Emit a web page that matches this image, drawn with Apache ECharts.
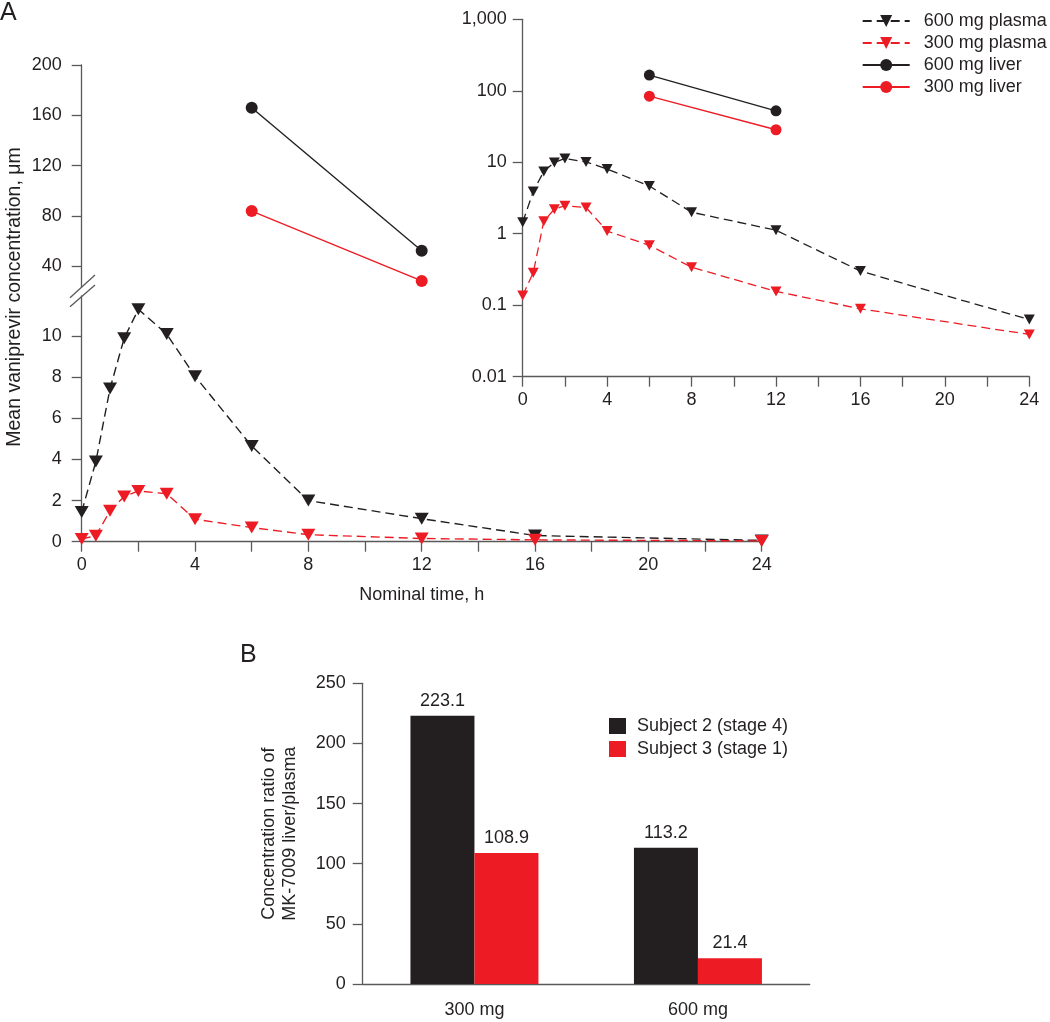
<!DOCTYPE html>
<html>
<head>
<meta charset="utf-8">
<title>Vaniprevir concentration</title>
<script src="https://cdn.jsdelivr.net/npm/echarts@6/dist/echarts.min.js"></script>
<style>
  html, body { margin: 0; padding: 0; background: #fff; }
  #main { width: 1050px; height: 1022px; }
</style>
</head>
<body>
<div id="main"></div>
<script>
// panel A data (hours, µM)
var times = [0, 0.5, 1, 1.5, 2, 3, 4, 6, 8, 12, 16, 24];
var plasma600 = [1.45, 3.9, 7.45, 9.9, 11.3, 10.1, 8.05, 4.65, 2.0, 1.12, 0.3, 0.063];
var plasma300 = [0.137, 0.285, 1.5, 2.2, 2.47, 2.33, 1.09, 0.69, 0.34, 0.156, 0.089, 0.039];
var liverTimes = [6, 12];
var liver600 = [166, 52.5];
var liver300 = [84, 28.5];
var upperTicks = [40, 80, 120, 160, 200];
var lowerTicks = [0, 2, 4, 6, 8, 10];
var logTickLabels = ['0.01', '0.1', '1', '10', '100', '1,000'];

// panel B data
var doseGroups = ['300 mg', '600 mg'];
var subject2 = [223.1, 113.2];
var subject3 = [108.9, 21.4];

var BLACK = '#231f20';
var RED = '#ed1c24';
var AXIS = '#58595b';
var FONT = '"Liberation Sans", Arial, Helvetica, sans-serif';

function pairs(xs, ys) {
    return xs.map(function (x, i) { return [x, ys[i]]; });
}

var axisLine = { lineStyle: { color: AXIS, width: 1.3 } };
var axisTick = { length: 10, lineStyle: { color: AXIS, width: 1.3 } };
var label = { color: BLACK, fontSize: 18, fontFamily: FONT };

function timeLabel(v) {
    return v % 4 === 0 ? String(v) : '';
}

var myChart = echarts.init(document.getElementById('main'));

myChart.setOption({
    animation: false,
    textStyle: { fontFamily: FONT, color: BLACK },
    grid: [
        // upper part of broken axis
        { left: 81.7, right: 288.3, top: 65, height: 222 },
        // lower part
        { left: 81.7, right: 288.3, top: 296, bottom: 480.3 },
        // log inset
        { left: 522.7, right: 20.7, top: 19.3, bottom: 645.3 },
        // panel B
        { left: 362.7, width: 447, top: 683.3, bottom: 38 }
    ],
    xAxis: [
        { gridIndex: 0, type: 'value', min: 0, max: 24, show: false },
        {
            gridIndex: 1, type: 'value', min: 0, max: 24, interval: 2,
            axisLine: axisLine, axisTick: axisTick, splitLine: { show: false },
            axisLabel: Object.assign({ margin: 14, formatter: timeLabel }, label),
            name: 'Nominal time, h', nameLocation: 'middle', nameGap: 44,
            nameTextStyle: { fontSize: 18, color: BLACK }
        },
        {
            gridIndex: 2, type: 'value', min: 0, max: 24, interval: 2,
            axisLine: axisLine, axisTick: axisTick, splitLine: { show: false },
            axisLabel: Object.assign({ margin: 14, formatter: timeLabel }, label)
        },
        {
            gridIndex: 3, type: 'category', data: doseGroups,
            axisLine: axisLine,
            axisTick: { length: 11, lineStyle: { color: AXIS, width: 1.3 } },
            axisLabel: Object.assign({ margin: 17 }, label)
        }
    ],
    yAxis: [
        {
            gridIndex: 0, type: 'value', min: 23.7, max: 200,
            axisLine: { show: true, lineStyle: { color: AXIS, width: 1.3 } },
            axisTick: Object.assign({ show: true, customValues: upperTicks }, axisTick),
            axisLabel: Object.assign({ margin: 20, customValues: upperTicks }, label),
            splitLine: { show: false }
        },
        {
            gridIndex: 1, type: 'value', min: 0, max: 11.95,
            axisLine: { show: true, lineStyle: { color: AXIS, width: 1.3 } },
            axisTick: Object.assign({ show: true, customValues: lowerTicks }, axisTick),
            axisLabel: Object.assign({ margin: 20, customValues: lowerTicks }, label),
            splitLine: { show: false }
        },
        {
            gridIndex: 2, type: 'log', logBase: 10, min: 0.01, max: 1000,
            axisLine: { show: true, lineStyle: { color: AXIS, width: 1.3 } },
            axisTick: Object.assign({ show: true }, axisTick),
            minorTick: { show: false },
            axisLabel: Object.assign({
                margin: 16,
                formatter: function (v) {
                    return logTickLabels[Math.round(Math.log10(v)) + 2];
                }
            }, label),
            splitLine: { show: false }
        },
        {
            gridIndex: 3, type: 'value', min: 0, max: 250, interval: 50,
            axisLine: { show: true, lineStyle: { color: AXIS, width: 1.3 } },
            axisTick: Object.assign({ show: true }, axisTick),
            axisLabel: Object.assign({ margin: 17 }, label),
            splitLine: { show: false },
            name: 'Concentration ratio of\nMK-7009 liver/plasma',
            nameLocation: 'middle', nameGap: 62,
            nameTextStyle: { fontSize: 18, color: BLACK, lineHeight: 21 }
        }
    ],
    legend: [
        {
            data: ['600 mg plasma', '300 mg plasma', '600 mg liver', '300 mg liver'],
            orient: 'vertical', left: 861.7, top: 12, padding: 0,
            itemWidth: 47, itemHeight: 15, itemGap: 4,
            textStyle: { fontSize: 18, color: BLACK, lineHeight: 18, padding: [0, 0, 0, 9] }
        },
        {
            data: ['Subject 2 (stage 4)', 'Subject 3 (stage 1)'],
            orient: 'vertical', left: 609, top: 717, padding: 0,
            icon: 'rect', itemWidth: 17, itemHeight: 16, itemGap: 5,
            textStyle: { fontSize: 18, color: BLACK, lineHeight: 16, padding: [0, 0, 0, 6] }
        }
    ],
    graphic: [
        { type: 'text', left: 0, top: 1, style: { text: 'A', font: '25px ' + FONT, fill: BLACK } },
        { type: 'text', left: 240, top: 643, style: { text: 'B', font: '25px ' + FONT, fill: BLACK } },
        {
            type: 'text', x: 15, y: 297, rotation: Math.PI / 2,
            style: {
                text: 'Mean vaniprevir concentration, \u03bcm', font: '19.5px ' + FONT,
                fill: BLACK, align: 'center', verticalAlign: 'middle'
            }
        },
        // axis break marks
        { type: 'line', shape: { x1: 70, y1: 297.7, x2: 95, y2: 275 }, style: { stroke: AXIS, lineWidth: 1.3 } },
        { type: 'line', shape: { x1: 70, y1: 306.7, x2: 95, y2: 285 }, style: { stroke: AXIS, lineWidth: 1.3 } }
    ],
    series: [
        // linear panel
        {
            name: '600 mg plasma', type: 'line', xAxisIndex: 1, yAxisIndex: 1,
            data: pairs(times, plasma600), symbol: 'triangle', symbolRotate: 180, symbolSize: [14, 12],
            lineStyle: { color: BLACK, width: 1.4, type: [9, 5] }, itemStyle: { color: BLACK }
        },
        {
            name: '300 mg plasma', type: 'line', xAxisIndex: 1, yAxisIndex: 1,
            data: pairs(times, plasma300), symbol: 'triangle', symbolRotate: 180, symbolSize: [14, 12],
            lineStyle: { color: RED, width: 1.4, type: [9, 5] }, itemStyle: { color: RED }
        },
        {
            name: '600 mg liver', type: 'line', xAxisIndex: 0, yAxisIndex: 0,
            data: pairs(liverTimes, liver600), symbol: 'circle', symbolSize: 12,
            lineStyle: { color: BLACK, width: 1.4 }, itemStyle: { color: BLACK }
        },
        {
            name: '300 mg liver', type: 'line', xAxisIndex: 0, yAxisIndex: 0,
            data: pairs(liverTimes, liver300), symbol: 'circle', symbolSize: 12,
            lineStyle: { color: RED, width: 1.4 }, itemStyle: { color: RED }
        },
        // log inset
        {
            name: '600 mg plasma', type: 'line', xAxisIndex: 2, yAxisIndex: 2,
            data: pairs(times, plasma600), symbol: 'triangle', symbolRotate: 180, symbolSize: [11, 10],
            lineStyle: { color: BLACK, width: 1.3, type: [9, 5] }, itemStyle: { color: BLACK }
        },
        {
            name: '300 mg plasma', type: 'line', xAxisIndex: 2, yAxisIndex: 2,
            data: pairs(times, plasma300), symbol: 'triangle', symbolRotate: 180, symbolSize: [11, 10],
            lineStyle: { color: RED, width: 1.3, type: [9, 5] }, itemStyle: { color: RED }
        },
        {
            name: '600 mg liver', type: 'line', xAxisIndex: 2, yAxisIndex: 2,
            data: pairs(liverTimes, liver600), symbol: 'circle', symbolSize: 11,
            lineStyle: { color: BLACK, width: 1.3 }, itemStyle: { color: BLACK }
        },
        {
            name: '300 mg liver', type: 'line', xAxisIndex: 2, yAxisIndex: 2,
            data: pairs(liverTimes, liver300), symbol: 'circle', symbolSize: 11,
            lineStyle: { color: RED, width: 1.3 }, itemStyle: { color: RED }
        },
        // panel B
        {
            name: 'Subject 2 (stage 4)', type: 'bar', xAxisIndex: 3, yAxisIndex: 3,
            data: subject2, barWidth: 64, barGap: '0%', itemStyle: { color: BLACK },
            label: { show: true, position: 'top', distance: 6, fontSize: 18, color: BLACK, fontFamily: FONT }
        },
        {
            name: 'Subject 3 (stage 1)', type: 'bar', xAxisIndex: 3, yAxisIndex: 3,
            data: subject3, barWidth: 64, barGap: '0%', itemStyle: { color: RED },
            label: { show: true, position: 'top', distance: 6, fontSize: 18, color: BLACK, fontFamily: FONT }
        }
    ]
});

window.onresize = function () {
    myChart.resize();
};
</script>
</body>
</html>
